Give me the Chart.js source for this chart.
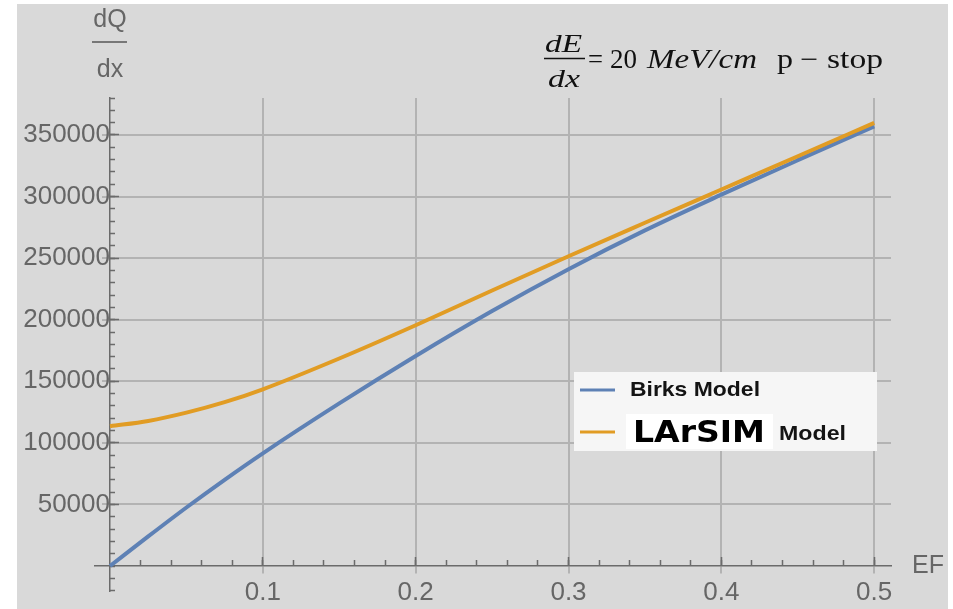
<!DOCTYPE html>
<html>
<head>
<meta charset="utf-8">
<script src="https://cdn.jsdelivr.net/npm/chart.js@4.4.1/dist/chart.umd.min.js"></script>
<style>
  html, body { margin: 0; background: #fff; }
  #wrap { width: 953px; height: 609px; position: relative; }
</style>
</head>
<body>
<div id="wrap"><canvas id="myChart"></canvas></div>
<script>
// field values EF and collected charge dQ/dx for both models
const ef = [0, 0.025, 0.05, 0.075, 0.1, 0.15, 0.2, 0.25, 0.3, 0.35, 0.4, 0.45, 0.5];
const birks = [0, 24000, 47500, 70000, 91500, 132000, 170500, 207000, 241000, 272500, 301500, 329500, 357000];
const larsim = [113500, 117800, 124500, 133000, 143500, 168500, 195500, 223700, 251500, 278700, 305700, 332700, 359800];

const xTicks = [0.1, 0.2, 0.3, 0.4, 0.5];
const yTicks = [50000, 100000, 150000, 200000, 250000, 300000, 350000];

// axis ranges (the axis lines run a bit past zero, like Mathematica)
const xRange = [0, 0.511];
const yRange = [0, 380000];
const xAxisFrom = -0.01;
const yAxisFrom = -20000;
const xMinorStep = 0.02;
const yMinorStep = 10000;

const axisColor = "#6b6b6b";
const gridColor = "#b3b3b3";
const labelColor = "#666666";
const sans = "'Liberation Sans', Arial, sans-serif";
const serif = "'Liberation Serif', 'Times New Roman', serif";

function steps(from, to, step) {
  const out = [];
  for (let v = from; v <= to + step / 2; v += step) out.push(Math.round(v / step) * step);
  return out;
}

// scale that only draws short tick marks on the axis line
function tickScale(axis, min, max, values, length) {
  return {
    type: "linear",
    axis: axis,
    position: axis === "x" ? { y: 0 } : { x: 0 },
    min: min,
    max: max,
    afterBuildTicks: (s) => { s.ticks = values.map((v) => ({ value: v })); },
    afterFit: (s) => { if (axis === "x") s.height = 0; else s.width = 0; },
    grid: { drawOnChartArea: false, tickLength: length, tickColor: axisColor, tickWidth: 1.5 },
    border: { display: false },
    ticks: { display: false },
  };
}

function fitText(ctx, text, x, y, width) {
  const w = ctx.measureText(text).width;
  ctx.save();
  ctx.translate(x, y);
  ctx.scale(width / w, 1);
  ctx.fillText(text, 0, 0);
  ctx.restore();
}

const background = {
  id: "background",
  beforeDraw(chart) {
    const ctx = chart.ctx;
    ctx.save();
    ctx.fillStyle = "#ffffff";
    ctx.fillRect(0, 0, chart.width, chart.height);
    ctx.fillStyle = "#d9d9d9";
    ctx.fillRect(17, 4, 931, 605);
    ctx.restore();
  },
};

// let the axis lines extend below / left of the origin
const axisOverhang = {
  id: "axisOverhang",
  afterLayout(chart) {
    const { x, y } = chart.scales;
    x.left = x.getPixelForValue(xAxisFrom);
    y.bottom = y.getPixelForValue(yAxisFrom);
  },
};

const annotations = {
  id: "annotations",
  afterDraw(chart) {
    const ctx = chart.ctx;
    const { x, y } = chart.scales;
    const x0 = x.getPixelForValue(0);
    const y0 = y.getPixelForValue(0);
    ctx.save();

    // y axis label dQ/dx
    ctx.fillStyle = labelColor;
    ctx.font = "25px " + sans;
    ctx.textAlign = "center";
    ctx.textBaseline = "alphabetic";
    ctx.fillText("dQ", x0, 27);
    ctx.fillText("dx", x0, 77);
    ctx.strokeStyle = "#777";
    ctx.lineWidth = 2;
    ctx.beginPath();
    ctx.moveTo(x0 - 18, 42);
    ctx.lineTo(x0 + 17, 42);
    ctx.stroke();

    // x axis label
    ctx.textAlign = "left";
    ctx.fillText("EF", x.right + 21, y0 + 7);

    // dE/dx = 20 MeV/cm  p - stop
    ctx.fillStyle = "#111";
    ctx.strokeStyle = "#111";
    ctx.font = "italic 26px " + serif;
    fitText(ctx, "dE", 545, 52, 37);
    fitText(ctx, "dx", 548, 87, 32);
    ctx.lineWidth = 1.5;
    ctx.beginPath();
    ctx.moveTo(544, 58.5);
    ctx.lineTo(585, 58.5);
    ctx.stroke();
    ctx.font = "27px " + serif;
    fitText(ctx, "=", 588, 68, 15);
    fitText(ctx, "20", 610, 68, 27);
    ctx.font = "italic 27px " + serif;
    fitText(ctx, "MeV/cm", 647, 68, 110);
    ctx.font = "27px " + serif;
    fitText(ctx, "p", 777, 68, 16);
    fitText(ctx, "\u2212", 800, 68, 18);
    fitText(ctx, "stop", 827, 68, 56);

    // legend
    const ds = chart.data.datasets;
    ctx.fillStyle = "#f6f6f6";
    ctx.fillRect(574, 372, 303, 79);
    ctx.lineWidth = 3;
    ctx.strokeStyle = ds[0].borderColor;
    ctx.beginPath();
    ctx.moveTo(580, 390);
    ctx.lineTo(615, 390);
    ctx.stroke();
    ctx.strokeStyle = ds[1].borderColor;
    ctx.beginPath();
    ctx.moveTo(580, 432);
    ctx.lineTo(615, 432);
    ctx.stroke();

    ctx.fillStyle = "#141414";
    ctx.font = "bold 21px " + sans;
    fitText(ctx, "Birks Model", 630, 396, 130);
    ctx.fillStyle = "#ffffff";
    ctx.fillRect(626, 414, 147, 35);
    ctx.fillStyle = "#000";
    ctx.font = "bold 30px 'DejaVu Sans', sans-serif";
    fitText(ctx, "LArSIM", 633, 442, 132);
    ctx.fillStyle = "#141414";
    ctx.font = "bold 21px " + sans;
    fitText(ctx, "Model", 779, 440, 67);

    ctx.restore();
  },
};

const data = {
  datasets: [
    {
      label: "Birks Model",
      data: ef.map((v, i) => ({ x: v, y: birks[i] })),
      borderColor: "#5e81b5",
      order: 1,
    },
    {
      label: "LArSIM Model",
      data: ef.map((v, i) => ({ x: v, y: larsim[i] })),
      borderColor: "#e19c24",
      order: 0,
    },
  ],
};

const config = {
  type: "line",
  data: data,
  options: {
    responsive: true,
    maintainAspectRatio: false,
    animation: false,
    layout: { padding: { left: 110, top: 98, right: 62, bottom: 43 } },
    elements: {
      line: { borderWidth: 4, cubicInterpolationMode: "monotone", fill: false },
      point: { radius: 0 },
    },
    datasets: { line: { clip: false } },
    scales: {
      x: {
        type: "linear",
        position: { y: 0 },
        min: xRange[0],
        max: xRange[1],
        afterBuildTicks: (s) => { s.ticks = xTicks.map((v) => ({ value: v })); },
        afterFit: (s) => { s.height = 0; },
        grid: { color: gridColor, lineWidth: 2, tickColor: gridColor, tickLength: 7, tickWidth: 2 },
        border: { color: axisColor, width: 1.5 },
        ticks: {
          color: labelColor,
          font: { family: sans, size: 26 },
          padding: 4,
          autoSkip: false,
          maxRotation: 0,
          callback: (v) => v.toFixed(1),
        },
      },
      y: {
        type: "linear",
        position: { x: 0 },
        min: yRange[0],
        max: yRange[1],
        afterBuildTicks: (s) => { s.ticks = yTicks.map((v) => ({ value: v })); },
        afterFit: (s) => { s.width = 0; },
        grid: { color: gridColor, lineWidth: 2, tickColor: gridColor, tickLength: 7, tickWidth: 2 },
        border: { color: axisColor, width: 1.5 },
        ticks: {
          color: labelColor,
          font: { family: sans, size: 26 },
          padding: 3,
          autoSkip: false,
          callback: (v) => String(v),
        },
      },
      xMinor: tickScale("x", xRange[0], xRange[1], steps(xMinorStep, 0.5, xMinorStep), -6),
      xMajor: tickScale("x", xRange[0], xRange[1], xTicks, -9),
      yMinor: tickScale("y", yRange[0], yRange[1], steps(yAxisFrom, yRange[1], yMinorStep), -5),
      yMajor: tickScale("y", yRange[0], yRange[1], yTicks, -9),
    },
    plugins: {
      legend: { display: false },
      tooltip: { enabled: false },
    },
  },
  plugins: [background, axisOverhang, annotations],
};

new Chart(document.getElementById("myChart"), config);
</script>
</body>
</html>
